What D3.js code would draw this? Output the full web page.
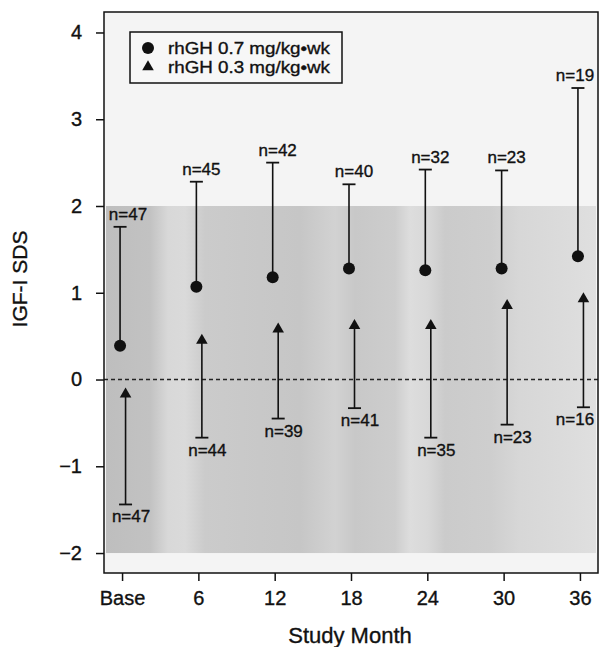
<!DOCTYPE html>
<html>
<head>
<meta charset="utf-8">
<script src="https://cdn.jsdelivr.net/npm/d3@7"></script>
<style>
  html, body { margin: 0; padding: 0; background: #ffffff; }
  svg { display: block; }
  text { font-family: "Liberation Sans", Arial, Helvetica, sans-serif; fill: #111; stroke: #111; stroke-width: 0.35px; }
</style>
</head>
<body>
<svg id="chart" width="600" height="647"></svg>
<script>
// ---- data ----
const months = [0, 6, 12, 18, 24, 30, 36];
const tickLabels = ["Base", "6", "12", "18", "24", "30", "36"];
const yTicks = [-2, -1, 0, 1, 2, 3, 4];
const seriesNames = ["rhGH 0.7 mg/kg\u2022wk", "rhGH 0.3 mg/kg\u2022wk"];
const highMean  = [0.39, 1.07, 1.18, 1.28, 1.26, 1.28, 1.42];
const highUpper = [1.76, 2.28, 2.50, 2.25, 2.42, 2.41, 3.36];
const highN     = [47, 45, 42, 40, 32, 23, 19];
const lowMean   = [-0.17, 0.45, 0.58, 0.62, 0.62, 0.85, 0.93];
const lowLower  = [-1.44, -0.67, -0.45, -0.33, -0.67, -0.52, -0.32];
const lowN      = [47, 44, 39, 41, 35, 23, 16];
const normalRange = [-2, 2];

// ---- layout ----
const L = 104, R = 598, T = 12, B = 573;
const svg = d3.select("#chart");

const x = d3.scaleLinear().domain([-1.42, 37.42]).range([L, R]);
const y = d3.scaleLinear().domain([-2.23, 4.236]).range([B, T]);

// gradient for shaded normal range
const defs = svg.append("defs");
const grad = defs.append("linearGradient").attr("id", "shade")
  .attr("gradientUnits", "userSpaceOnUse")
  .attr("x1", L).attr("x2", R).attr("y1", 0).attr("y2", 0);
const stops = [
  [106, "#bebebe"], [150, "#c2c2c2"], [168, "#d8d8d8"], [185, "#dadada"],
  [205, "#cbcbcb"], [260, "#c8c8c8"], [300, "#c6c6c6"], [335, "#d2d2d2"],
  [355, "#c8c8c8"], [395, "#cdcdcd"], [410, "#dddddd"], [428, "#d8d8d8"],
  [445, "#cbcbcb"], [490, "#cecece"], [520, "#d7d7d7"], [560, "#dbdbdb"],
  [596, "#dfdfdf"]
];
stops.forEach(s => grad.append("stop")
  .attr("offset", ((s[0] - L) / (R - L)))
  .attr("stop-color", s[1]));

// plot background
svg.append("rect").attr("x", L).attr("y", T).attr("width", R - L).attr("height", B - T)
  .attr("fill", "#f4f4f4");

// normal range shading
svg.append("rect")
  .attr("x", L + 2).attr("width", R - L - 4)
  .attr("y", y(normalRange[1])).attr("height", y(normalRange[0]) - y(normalRange[1]))
  .attr("fill", "url(#shade)");

// dashed zero line
svg.append("line")
  .attr("x1", L).attr("x2", R).attr("y1", y(0)).attr("y2", y(0))
  .attr("stroke", "#222").attr("stroke-width", 1.3).attr("stroke-dasharray", "4,3");

// frame
svg.append("rect").attr("x", L).attr("y", T).attr("width", R - L).attr("height", B - T)
  .attr("fill", "none").attr("stroke", "#111").attr("stroke-width", 1.5);

// axes
const yAxis = d3.axisLeft(y).tickValues(yTicks).tickSize(8).tickPadding(6)
  .tickFormat(d => d < 0 ? "\u2212" + Math.abs(d) : String(d));
const gy = svg.append("g").attr("transform", `translate(${L},0)`).call(yAxis);
gy.select(".domain").remove();
gy.selectAll(".tick line").attr("stroke", "#111").attr("stroke-width", 1.5);
gy.selectAll(".tick text").attr("font-size", 20).attr("fill", "#111")
  .attr("font-family", "Liberation Sans, Arial, sans-serif").attr("x", -22);

const xAxis = d3.axisBottom(x).tickValues(months).tickSize(8).tickPadding(10)
  .tickFormat((d, i) => tickLabels[i]);
const gx = svg.append("g").attr("transform", `translate(0,${B})`).call(xAxis);
gx.select(".domain").remove();
gx.selectAll(".tick line").attr("stroke", "#111").attr("stroke-width", 1.5);
gx.selectAll(".tick text").attr("font-size", 20).attr("fill", "#111")
  .attr("font-family", "Liberation Sans, Arial, sans-serif");

// axis titles
svg.append("text").attr("x", 350).attr("y", 643).attr("text-anchor", "middle")
  .attr("font-size", 22).text("Study Month");
svg.append("text").attr("transform", "translate(27,279) rotate(-90)")
  .attr("text-anchor", "middle").attr("font-size", 21).text("IGF-I SDS");

// error bars & markers
const capW = 13;
const clampX = v => Math.max(L + 24, Math.min(R - 23, v));
const tri = d3.symbol().type(d3.symbolTriangle).size(58);

months.forEach((m, i) => {
  // high dose (circles), bar upward
  const cx = x(m) - 2;
  svg.append("line").attr("x1", cx).attr("x2", cx)
    .attr("y1", y(highMean[i])).attr("y2", y(highUpper[i]))
    .attr("stroke", "#111").attr("stroke-width", 1.6);
  svg.append("line").attr("x1", cx - capW / 2).attr("x2", cx + capW / 2)
    .attr("y1", y(highUpper[i])).attr("y2", y(highUpper[i]))
    .attr("stroke", "#111").attr("stroke-width", 1.8);
  svg.append("circle").attr("cx", cx).attr("cy", y(highMean[i])).attr("r", 6).attr("fill", "#111");
  svg.append("text").attr("x", clampX(x(m) + 3)).attr("y", y(highUpper[i]) - 7)
    .attr("text-anchor", "middle").attr("font-size", 17).text("n=" + highN[i]);

  // low dose (triangles), bar downward
  const tx = x(m) + 3.5;
  svg.append("line").attr("x1", tx).attr("x2", tx)
    .attr("y1", y(lowMean[i])).attr("y2", y(lowLower[i]))
    .attr("stroke", "#111").attr("stroke-width", 1.6);
  svg.append("line").attr("x1", tx - capW / 2).attr("x2", tx + capW / 2)
    .attr("y1", y(lowLower[i])).attr("y2", y(lowLower[i]))
    .attr("stroke", "#111").attr("stroke-width", 1.8);
  svg.append("path").attr("d", tri)
    .attr("transform", `translate(${tx},${y(lowMean[i])})`).attr("fill", "#111");
  svg.append("text").attr("x", clampX(x(m) + 9)).attr("y", y(lowLower[i]) + 18)
    .attr("text-anchor", "middle").attr("font-size", 17).text("n=" + lowN[i]);
});

// legend
const lg = svg.append("g");
lg.append("rect").attr("x", 130).attr("y", 32).attr("width", 212).attr("height", 51)
  .attr("fill", "#f7f7f7").attr("stroke", "#111").attr("stroke-width", 1.5);
lg.append("circle").attr("cx", 148).attr("cy", 48).attr("r", 6).attr("fill", "#111");
lg.append("path").attr("d", tri).attr("transform", "translate(148,67)").attr("fill", "#111");
seriesNames.forEach((s, i) => {
  lg.append("text").attr("x", 168).attr("y", 54 + i * 19).attr("font-size", 17)
    .attr("textLength", 162).attr("lengthAdjust", "spacingAndGlyphs").text(s);
});
</script>
</body>
</html>
